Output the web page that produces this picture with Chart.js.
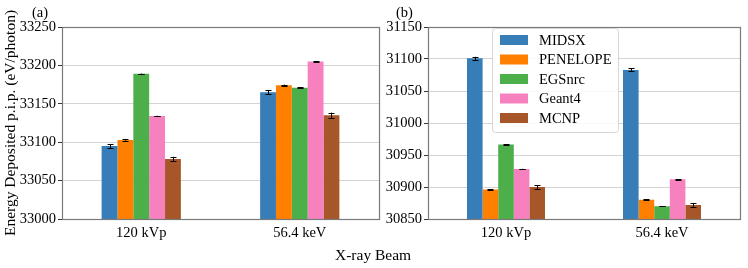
<!DOCTYPE html>
<html>
<head>
<meta charset="utf-8">
<script src="https://cdn.jsdelivr.net/npm/chart.js@4/dist/chart.umd.min.js"></script>
<style>
  html, body { margin:0; padding:0; background:#fff; }
  body { width:748px; height:268px; position:relative; overflow:hidden; font-family:"Liberation Serif", serif; }
  #wa { position:absolute; left:0; top:0; width:383px; height:268px; }
  #wb { position:absolute; left:383px; top:0; width:365px; height:268px; }
  .lbl { position:absolute; font-size:14.5px; color:#000; line-height:1; white-space:nowrap; }
</style>
</head>
<body>
<div id="wa"><canvas id="ca"></canvas></div>
<div id="wb"><canvas id="cb"></canvas></div>
<div class="lbl" style="left:32px; top:5px;">(a)</div>
<div class="lbl" style="left:396px; top:5px;">(b)</div>
<div class="lbl" style="left:335px; top:247px; font-size:15.5px;">X-ray Beam</div>
<script>
const categories = ["120 kVp", "56.4 keV"];
const seriesNames = ["MIDSX", "PENELOPE", "EGSnrc", "Geant4", "MCNP"];
const seriesColors = ["#377eb8", "#ff7f00", "#4daf4a", "#f781bf", "#a65628"];

// Panel (a)
const aMIDSX    = [33095, 33165];
const aPENELOPE = [33103, 33174];
const aEGSnrc   = [33189, 33171];
const aGeant4   = [33134, 33205];
const aMCNP     = [33078, 33135];
const aErrMIDSX    = [2.5, 2.5];
const aErrPENELOPE = [1, 1];
const aErrEGSnrc   = [0.4, 0.4];
const aErrGeant4   = [0.5, 0.5];
const aErrMCNP     = [3, 3.5];
const aTicks = [33000, 33050, 33100, 33150, 33200, 33250];

// Panel (b)
const bMIDSX    = [31101, 31083];
const bPENELOPE = [30896, 30880];
const bEGSnrc   = [30966.5, 30870];
const bGeant4   = [30928, 30912];
const bMCNP     = [30900, 30872];
const bErrMIDSX    = [2.5, 2.5];
const bErrPENELOPE = [1, 1];
const bErrEGSnrc   = [0.4, 0.4];
const bErrGeant4   = [0.5, 0.5];
const bErrMCNP     = [3, 3];
const bTicks = [30850, 30900, 30950, 31000, 31050, 31100, 31150];

const FONT = "'Liberation Serif', serif";

function makeDatasets(vals, errs) {
  return seriesNames.map((n, i) => ({
    label: n,
    data: vals[i],
    errors: errs[i],
    backgroundColor: seriesColors[i],
    borderWidth: 0,
    categoryPercentage: 0.5,
    barPercentage: 1.0
  }));
}

const errorBarPlugin = {
  id: 'errbars',
  afterDatasetsDraw(chart) {
    const ctx = chart.ctx;
    const ys = chart.scales.y;
    ctx.save();
    ctx.strokeStyle = '#000';
    ctx.lineWidth = 1;
    chart.data.datasets.forEach((ds, di) => {
      const meta = chart.getDatasetMeta(di);
      meta.data.forEach((bar, j) => {
        const v = ds.data[j], e = ds.errors[j];
        const x = Math.round(bar.x) + 0.5;
        const y1 = ys.getPixelForValue(v - e);
        const y2 = ys.getPixelForValue(v + e);
        ctx.beginPath();
        ctx.moveTo(x, y1); ctx.lineTo(x, y2);
        ctx.moveTo(x - 3, Math.round(y1) + 0.5); ctx.lineTo(x + 3, Math.round(y1) + 0.5);
        ctx.moveTo(x - 3, Math.round(y2) + 0.5); ctx.lineTo(x + 3, Math.round(y2) + 0.5);
        ctx.stroke();
      });
    });
    ctx.restore();
  }
};

const framePlugin = {
  id: 'frame',
  afterDraw(chart) {
    const a = chart.chartArea, ctx = chart.ctx;
    ctx.save();
    ctx.strokeStyle = '#7a7a7a';
    ctx.lineWidth = 1.2;
    ctx.strokeRect(Math.round(a.left) + 0.5, Math.round(a.top) + 0.5, Math.round(a.right - a.left), Math.round(a.bottom - a.top));
    ctx.restore();
  }
};

const legendPlugin = {
  id: 'innerLegend',
  afterDraw(chart, args, opts) {
    if (!opts.show) return;
    const ctx = chart.ctx;
    const a = chart.chartArea;
    const bx = a.left + opts.dx, by = a.top + 1, bw = 126, bh = 104;
    ctx.save();
    ctx.fillStyle = 'rgba(255,255,255,0.85)';
    ctx.strokeStyle = '#d6d6d6';
    ctx.lineWidth = 1;
    ctx.beginPath();
    ctx.roundRect(bx + 0.5, by + 0.5, bw, bh, 3);
    ctx.fill(); ctx.stroke();
    ctx.font = "14.5px " + FONT;
    ctx.textBaseline = 'middle';
    chart.data.datasets.forEach((ds, i) => {
      const cy = by + 12 + i * 19.5;
      ctx.fillStyle = ds.backgroundColor;
      ctx.fillRect(bx + 8, cy - 5, 28, 10);
      ctx.fillStyle = '#000';
      ctx.fillText(ds.label, bx + 47, cy + 1);
    });
    ctx.restore();
  }
};

function makeChart(id, vals, errs, ticks, yW, rightPad, showTitle, showLegend) {
  return new Chart(document.getElementById(id), {
    type: 'bar',
    data: { labels: categories, datasets: makeDatasets(vals, errs) },
    plugins: [errorBarPlugin, framePlugin, legendPlugin],
    options: {
      responsive: true,
      maintainAspectRatio: false,
      animation: false,
      layout: { padding: { top: 27, right: rightPad, bottom: 0, left: 0 } },
      plugins: {
        legend: { display: false },
        tooltip: { enabled: false },
        innerLegend: { show: showLegend, dx: 64 }
      },
      scales: {
        x: {
          offset: true,
          grid: { display: false, drawTicks: true, tickLength: 4, tickColor: '#333' },
          border: { display: false },
          ticks: { font: { family: FONT, size: 14.5 }, color: '#000', padding: 1 },
          afterFit(s) { s.height = 49; }
        },
        y: {
          min: ticks[0],
          max: ticks[ticks.length - 1],
          afterBuildTicks(s) { s.ticks = ticks.map(v => ({ value: v })); },
          grid: { color: '#d4d4d4', lineWidth: 1, drawTicks: true, tickLength: 4, tickColor: '#333' },
          border: { display: false },
          ticks: { font: { family: FONT, size: 14.5 }, color: '#000', padding: 2,
                   callback: v => String(v) },
          title: { display: showTitle, text: 'Energy Deposited p.i.p. (eV/photon)',
                   font: { family: FONT, size: 15.5 }, color: '#000', padding: { top: 2, bottom: 0 } },
          afterFit(s) { s.width = yW; }
        }
      }
    }
  });
}

makeChart('ca',
  [aMIDSX, aPENELOPE, aEGSnrc, aGeant4, aMCNP],
  [aErrMIDSX, aErrPENELOPE, aErrEGSnrc, aErrGeant4, aErrMCNP],
  aTicks, 62, 4, true, false);
makeChart('cb',
  [bMIDSX, bPENELOPE, bEGSnrc, bGeant4, bMCNP],
  [bErrMIDSX, bErrPENELOPE, bErrEGSnrc, bErrGeant4, bErrMCNP],
  bTicks, 45, 8, false, true);
</script>
</body>
</html>
